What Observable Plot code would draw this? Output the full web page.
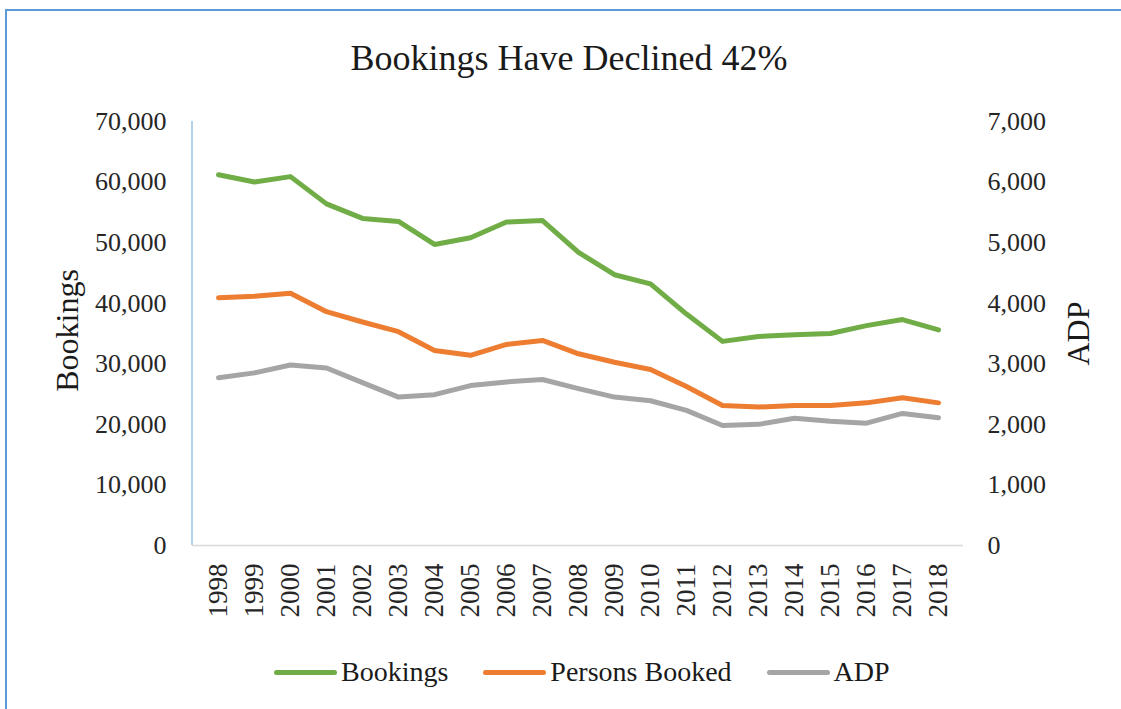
<!DOCTYPE html>
<html>
<head>
<meta charset="utf-8">
<script src="https://cdn.jsdelivr.net/npm/d3@7"></script>
<script src="https://cdn.jsdelivr.net/npm/@observablehq/plot@0.6"></script>
<style>
  html, body { margin: 0; padding: 0; background: #fff; }
  #wrap { position: relative; width: 1121px; height: 709px; overflow: hidden; font-family: "Liberation Serif", "Times New Roman", serif; }
  #border { position: absolute; left: 5px; top: 9px; width: 1130px; height: 720px; border: 2px solid #5b9bd5; box-sizing: border-box; }
  #title { position: absolute; left: 0; width: 1138px; top: 40px; text-align: center; font-size: 36px; line-height: 36px; color: #1a1a1a; }
  #chart { position: absolute; left: 0; top: 100px; }
  #legend { position: absolute; left: 274px; top: 656px; display: flex; align-items: center; font-size: 28px; line-height: 32px; color: #1a1a1a; }
  .item { display: flex; align-items: center; margin-right: 35px; }
  .sw { width: 63px; height: 5px; border-radius: 3px; margin-right: 4px; }
</style>
</head>
<body>
<div id="wrap">
  <div id="border"></div>
  <div id="title"></div>
  <div id="chart"></div>
  <div id="legend"></div>
</div>
<script>
const titleText = "Bookings Have Declined 42%";
const years = [1998, 1999, 2000, 2001, 2002, 2003, 2004, 2005, 2006, 2007, 2008, 2009, 2010, 2011, 2012, 2013, 2014, 2015, 2016, 2017, 2018];
const bookings = [61200, 60000, 60900, 56400, 54000, 53500, 49700, 50800, 53400, 53650, 48400, 44700, 43200, 38200, 33700, 34500, 34800, 35000, 36300, 37300, 35600];
const personsBooked = [40900, 41150, 41650, 38600, 36900, 35300, 32200, 31400, 33200, 33850, 31650, 30250, 29050, 26250, 23100, 22850, 23100, 23100, 23550, 24400, 23550];
const adp = [2770, 2850, 2980, 2930, 2690, 2450, 2490, 2640, 2700, 2740, 2590, 2450, 2390, 2230, 1980, 2000, 2100, 2050, 2020, 2180, 2110];
const leftTicks = [0, 10000, 20000, 30000, 40000, 50000, 60000, 70000];
const rightTicks = [0, 1000, 2000, 3000, 4000, 5000, 6000, 7000];
const seriesNames = ["Bookings", "Persons Booked", "ADP"];
const leftLabel = "Bookings";
const rightLabel = "ADP";

const colors = ["#70ad47", "#ed7d31", "#a5a5a5"];
const ratio = leftTicks[leftTicks.length - 1] / rightTicks[rightTicks.length - 1];
const fmt = d3.format(",");

const rowsB = years.map((year, i) => ({year, value: bookings[i]}));
const rowsP = years.map((year, i) => ({year, value: personsBooked[i]}));
const rowsA = years.map((year, i) => ({year, value: adp[i]}));

document.getElementById("title").textContent = titleText;

const leftAxisLine = (index, scales, values, dimensions) => {
  const y = scales.y;
  return d3.create("svg:line")
    .attr("x1", dimensions.marginLeft).attr("x2", dimensions.marginLeft)
    .attr("y1", y(leftTicks[leftTicks.length - 1])).attr("y2", y(0))
    .attr("stroke", "#9dc3e6").attr("stroke-width", 1.5)
    .node();
};

const chart = Plot.plot({
  width: 1121,
  height: 540,
  marginTop: 21,
  marginBottom: 95,
  marginLeft: 192,
  marginRight: 158,
  x: {type: "point", domain: years, padding: 0.5},
  y: {domain: [0, leftTicks[leftTicks.length - 1]]},
  style: {fontFamily: "'Liberation Serif', 'Times New Roman', serif", fontSize: "26px", color: "#262626", background: "transparent", overflow: "visible"},
  marks: [
    Plot.ruleY([0], {stroke: "#d9d9d9", strokeWidth: 1.5}),
    leftAxisLine,
    Plot.axisY(leftTicks, {anchor: "left", tickSize: 0, tickPadding: 26, tickFormat: fmt, label: null}),
    Plot.axisY(rightTicks.map(d => d * ratio), {anchor: "right", tickSize: 0, tickPadding: 24, tickFormat: d => fmt(d / ratio), label: null}),
    Plot.axisX({tickRotate: -90, tickSize: 0, tickPadding: 18, fontSize: 27, tickFormat: d => String(d), label: null}),
    Plot.text([leftLabel], {frameAnchor: "left", dx: -125, dy: -3, rotate: -90, textAnchor: "middle", fontSize: 32, text: d => d, fill: "#1a1a1a"}),
    Plot.text([rightLabel], {frameAnchor: "right", dx: 115, rotate: -90, textAnchor: "middle", fontSize: 32, text: d => d, fill: "#1a1a1a"}),
    Plot.line(rowsA, {x: "year", y: d => d.value * ratio, stroke: colors[2], strokeWidth: 5, strokeLinejoin: "round", strokeLinecap: "round"}),
    Plot.line(rowsP, {x: "year", y: "value", stroke: colors[1], strokeWidth: 5, strokeLinejoin: "round", strokeLinecap: "round"}),
    Plot.line(rowsB, {x: "year", y: "value", stroke: colors[0], strokeWidth: 5, strokeLinejoin: "round", strokeLinecap: "round"})
  ]
});
document.getElementById("chart").appendChild(chart);

const legend = document.getElementById("legend");
seriesNames.forEach((name, i) => {
  const item = document.createElement("div");
  item.className = "item";
  const sw = document.createElement("div");
  sw.className = "sw";
  sw.style.background = colors[i];
  const label = document.createElement("span");
  label.textContent = name;
  item.appendChild(sw);
  item.appendChild(label);
  legend.appendChild(item);
});
</script>
</body>
</html>
